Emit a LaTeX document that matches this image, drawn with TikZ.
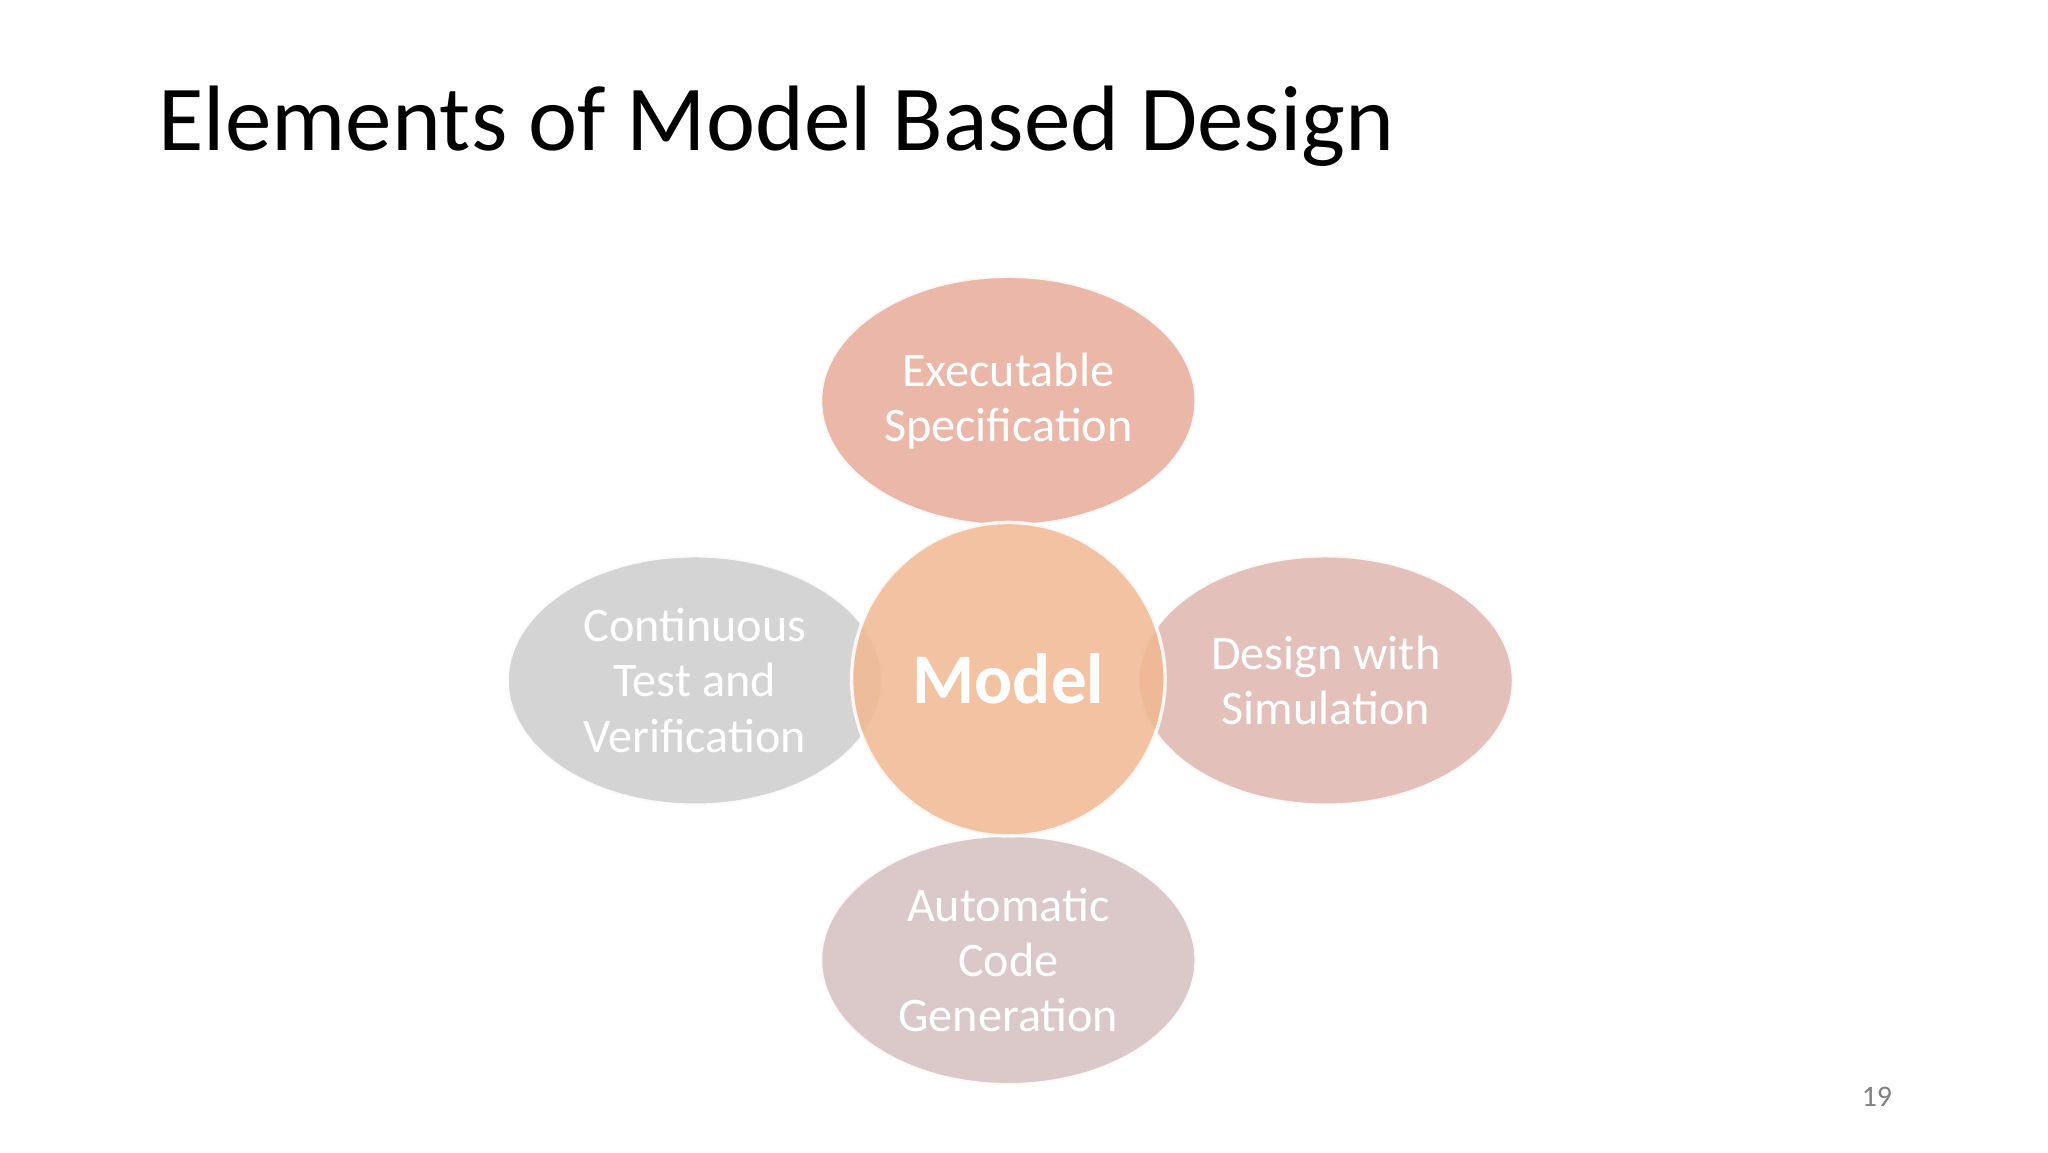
\documentclass[tikz,border=0pt]{standalone}
\usepackage{fontspec}
\setmainfont{Carlito}
\usetikzlibrary{positioning,shapes.geometric}
\definecolor{topfill}{HTML}{E8B0A0}
\definecolor{modelfill}{HTML}{F2B892}
\definecolor{rightfill}{HTML}{E2BAB4}
\definecolor{leftfill}{HTML}{D0D0D0}
\definecolor{bottomfill}{HTML}{D8C4C4}
\begin{document}
\begin{tikzpicture}
	\tikzstyle{petal}=[ellipse, minimum width=5.75cm, minimum height=3.82cm, inner sep=0pt, draw=white, line width=1.5pt, opacity=0.9, text opacity=1, text=white, align=center, font=\fontsize{21}{24}\selectfont]
	\useasboundingbox (0,0) rectangle (31.36,17.64);
	\fill[white] (0,0) rectangle (31.36,17.64);
	\node[anchor=base west, inner sep=0pt, font=\fontsize{40.5}{44}\selectfont](title) at (2.42,15.34){Elements of Model Based Design};
	
	\node[petal, fill=topfill](spec) at (15.44,11.50){Executable\\Specification};
	\node[petal, fill=rightfill](sim) at (20.30,7.22){Design with\\Simulation};
	\node[petal, fill=leftfill](test) at (10.64,7.22){Continuous\\Test and\\Verification};
	\node[petal, fill=bottomfill](code) at (15.44,2.94){Automatic\\Code\\Generation};
	\node[circle, minimum size=4.8cm, fill=modelfill, draw=white, line width=1.5pt, opacity=0.85, text opacity=1, text=white, font=\bfseries\fontsize{31}{34}\selectfont](model) at (15.44,7.24){Model};
	
	\node[text=gray, font=\fontsize{13}{15}\selectfont](page) at (28.74,0.84){19};
\end{tikzpicture}
\end{document}
